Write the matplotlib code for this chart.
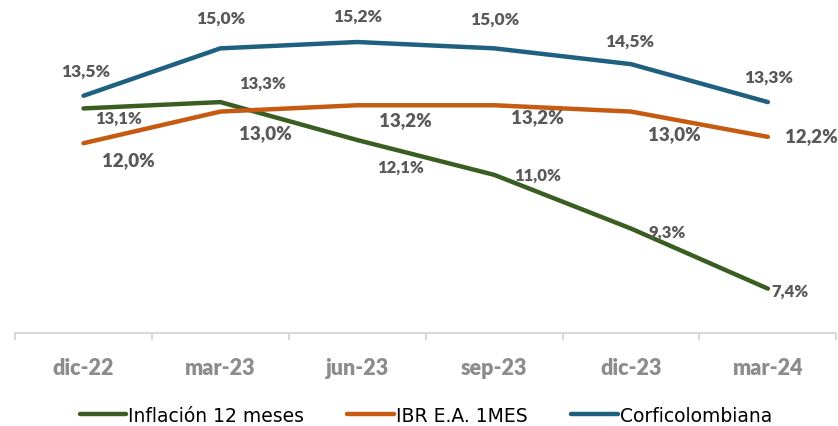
import numpy as np
import matplotlib.pyplot as plt

# datos
periodos = ['dic-22', 'mar-23', 'jun-23', 'sep-23', 'dic-23', 'mar-24']
inflacion = [13.1, 13.3, 12.1, 11.0, 9.3, 7.4]
ibr = [12.0, 13.0, 13.2, 13.2, 13.0, 12.2]
corfi = [13.5, 15.0, 15.2, 15.0, 14.5, 13.3]

# desplazamientos de etiquetas (pixeles)
off_inflacion = [(35, -9), (42, 19), (43, -27), (43, 0), (36, -3), (22, -2)]
off_ibr = [(45, -16), (45, -21), (48, -14), (43, -11), (43, -22), (43, 1)]
off_corfi = [(2, 25), (0, 31), (0, 26), (1, 30), (-1, 23), (1, 25)]

c_verde = '#3a5e22'
c_naranja = '#c55a11'
c_azul = '#1f5f7f'
c_texto = '#595959'

fig = plt.figure(figsize=(8.38, 4.27), dpi=100)
ax = fig.add_axes([0.018, 0.218, 0.98, 0.7405])

x = np.arange(len(periodos))
series = [
    (inflacion, c_verde, 'Inflación 12 meses', off_inflacion, 12),
    (ibr, c_naranja, 'IBR E.A. 1MES', off_ibr, 13.5),
    (corfi, c_azul, 'Corficolombiana', off_corfi, 12.5),
]
for vals, col, nombre, offs, fs in series:
    ax.plot(x, vals, color=col, lw=3.2, label=nombre, solid_capstyle='round')
    for xi, v, o in zip(x, vals, offs):
        ax.annotate(f'{v:.1f}%'.replace('.', ','), (xi, v), xytext=o,
                    textcoords='offset pixels', ha='center', va='center',
                    fontsize=fs, fontweight='heavy', color=c_texto,
                    family='Lato')

ax.set_xlim(-0.5, len(periodos) - 0.5)
ax.set_ylim(6, 16)
ax.set_yticks([])
for s in ['top', 'left', 'right']:
    ax.spines[s].set_visible(False)
ax.spines['bottom'].set_color('#d9d9d9')
ax.spines['bottom'].set_linewidth(1.5)

ax.set_xticks(x)
ax.set_xticklabels(periodos, fontsize=15.5, fontweight='heavy', color='#8c8c8c',
                   family='Lato')
ax.tick_params(axis='x', which='major', length=0, pad=17)
ax.set_xticks(np.arange(-0.5, len(periodos)), minor=True)
ax.tick_params(axis='x', which='minor', length=5, width=1.5, color='#d9d9d9',
               direction='out')

ax.legend(loc='center', bbox_to_anchor=(0.5, -0.26), ncol=3, frameon=False,
          prop={'family': 'DejaVu Sans', 'size': 13.5}, handlelength=2.5,
          handletextpad=0.1, columnspacing=2.3)

fig.savefig('out.png', dpi=100)
